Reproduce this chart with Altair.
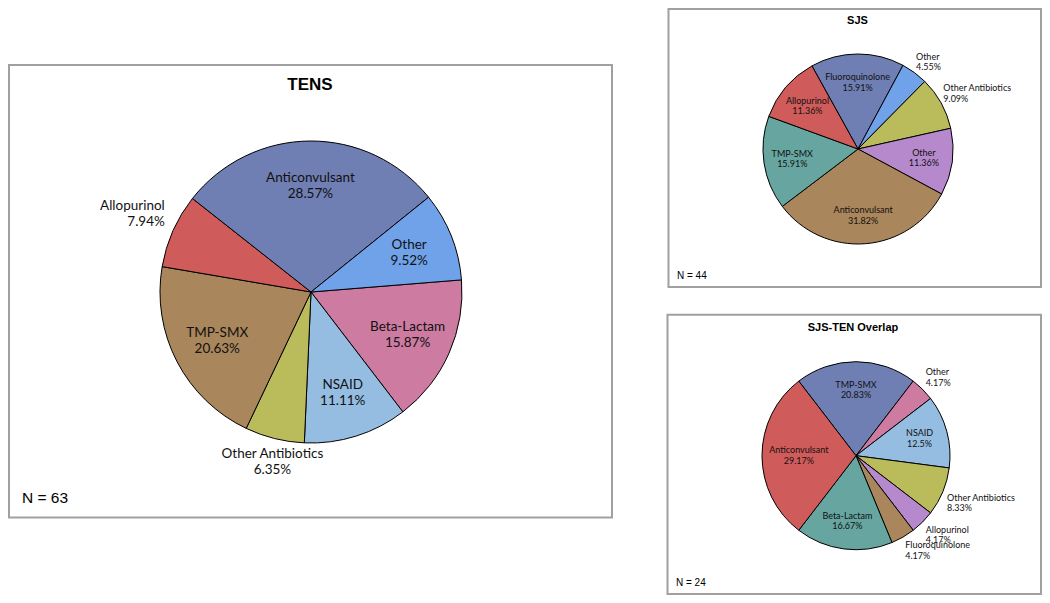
import altair as alt
import pandas as pd

# ---------------- data ----------------
# slices listed clockwise
tens_cats = ["Beta-Lactam", "NSAID", "Other Antibiotics", "TMP-SMX", "Allopurinol", "Anticonvulsant", "Other"]
tens_pct = [15.87, 11.11, 6.35, 20.63, 7.94, 28.57, 9.52]
tens_n = 63

sjs_cats = ["Fluoroquinolone", "Other", "Other Antibiotics", "Other", "Anticonvulsant", "TMP-SMX", "Allopurinol"]
sjs_pct = [15.91, 4.55, 9.09, 11.36, 31.82, 15.91, 11.36]
sjs_n = 44

ovl_cats = ["TMP-SMX", "Other", "NSAID", "Other Antibiotics", "Allopurinol", "Fluoroquinolone", "Beta-Lactam", "Anticonvulsant"]
ovl_pct = [20.83, 4.17, 12.5, 8.33, 4.17, 4.17, 16.67, 29.17]
ovl_n = 24

# ---------------- styles ----------------
tens_colors = ["#CD7BA1", "#94BDE1", "#BABC5C", "#A9865B", "#D05B5B", "#6F7EB3", "#70A2E9"]
sjs_colors = ["#6F7EB3", "#70A2E9", "#BABC5C", "#B689CD", "#A9865B", "#66A5A0", "#D05B5B"]
ovl_colors = ["#6F7EB3", "#CD7BA1", "#94BDE1", "#BABC5C", "#B689CD", "#A9865B", "#66A5A0", "#D05B5B"]

LABEL_FONT = "Lato"
TITLE_FONT = "Liberation Sans"
BORDER = "#A0A0A0"


def panel(title, cats, pcts, colors, n, start_deg, cx, cy, r, box,
          title_xy, title_size, label_size, line_h, gap, n_xy, n_size):
    df = pd.DataFrame({
        "idx": list(range(len(cats))),
        "name": cats,
        "pct": pcts,
        "col": colors,
        "label": [f"{c}\n{p}%" for c, p in zip(cats, pcts)],
    })
    start = start_deg * 3.141592653589793 / 180.0
    half_w = f"length(datum.name)*{label_size}*0.27"
    base = (
        alt.Chart(df)
        .transform_joinaggregate(total="sum(pct)")
        .transform_window(cum="sum(pct)", sort=[alt.SortField("idx")], frame=[None, 0])
        .transform_calculate(t1=f"{start} + 2*PI*datum.cum/datum.total")
        .transform_calculate(t0="datum.t1 - 2*PI*datum.pct/datum.total")
        .transform_calculate(mid="(datum.t0 + datum.t1)/2")
        .transform_calculate(s="sin(datum.mid)", c="cos(datum.mid)")
        .transform_calculate(
            lr=f"min({0.7 * r}, ({0.97 * r} - {half_w})/max(abs(datum.s), 0.01))")
    )
    arcs = base.mark_arc(radius=r, stroke="black", strokeWidth=1).encode(
        theta=alt.Theta("t0:Q", scale=None),
        theta2=alt.Theta2("t1"),
        x=alt.value(cx),
        y=alt.value(cy),
        color=alt.Color("col:N", scale=None),
    )
    common = dict(lineBreak="\n", font=LABEL_FONT, fontSize=label_size,
                  lineHeight=line_h, color="#111111", baseline="middle")
    enc = dict(theta=alt.Theta("mid:Q", scale=None, stack=False),
               x=alt.value(cx), y=alt.value(cy), text=alt.Text("label:N"))
    out = []
    out.append(base.transform_filter("datum.pct >= 9.3").mark_text(
        align="center", dy=-line_h / 2, **common).encode(
        radius=alt.Radius("lr:Q", scale=None), **enc))
    side = {
        "center": "abs(datum.s) < 0.34",
        "left": "datum.s >= 0.34",
        "right": "datum.s <= -0.34",
    }
    vert = {
        "upper": ("datum.c > 0", -line_h - 0.35 * label_size),
        "lower": ("datum.c <= 0", 0.5 * label_size),
    }
    for al, cond in side.items():
        for vk, (vcond, dyv) in vert.items():
            out.append(base.transform_filter(
                f"datum.pct < 9.3 && {cond} && {vcond}").mark_text(
                radius=r + gap, align=al, dy=dyv, **common).encode(**enc))

    one = pd.DataFrame({"t": [title], "n": [f"N = {n}"]})
    frame = alt.Chart(one).mark_rect(fillOpacity=0, stroke=BORDER, strokeWidth=2).encode(
        x=alt.value(box[0]), x2=alt.value(box[1]), y=alt.value(box[2]), y2=alt.value(box[3]))
    ttl = alt.Chart(one).mark_text(font=TITLE_FONT, fontWeight="bold", fontSize=title_size,
                                   align="center", baseline="middle", color="black").encode(
        x=alt.value(title_xy[0]), y=alt.value(title_xy[1]), text="t:N")
    ntext = alt.Chart(one).mark_text(font=TITLE_FONT, fontSize=n_size, align="left",
                                     baseline="middle", color="black").encode(
        x=alt.value(n_xy[0]), y=alt.value(n_xy[1]), text="n:N")
    return [frame, arcs] + out + [ttl, ntext]


layers = []
layers += panel("TENS", tens_cats, tens_pct, tens_colors, tens_n, 85.4,
                303, 284, 151, (1, 604, 57, 509.5), (302, 76.5), 17, 13.5, 16, 9,
                (14, 490), 15.5)
layers += panel("SJS", sjs_cats, sjs_pct, sjs_colors, sjs_n, -29,
                850, 141, 95, (660.5, 1033, 1, 279), (849.5, 12.7), 11, 9, 10.5, 2.5,
                (669, 268), 10)
layers += panel("SJS-TEN Overlap", ovl_cats, ovl_pct, ovl_colors, ovl_n, -37.5,
                848, 447.7, 94, (659.5, 1033, 306.7, 586), (845, 320), 11, 9, 10.5, 4.5,
                (668, 575), 10)

chart = alt.layer(*layers).properties(
    width=1034, height=587,
    autosize=alt.AutoSizeParams(type="none"),
    padding=0,
).configure_view(stroke=None)

chart.save("out.html", embed_options={"renderer": "svg", "actions": False})
